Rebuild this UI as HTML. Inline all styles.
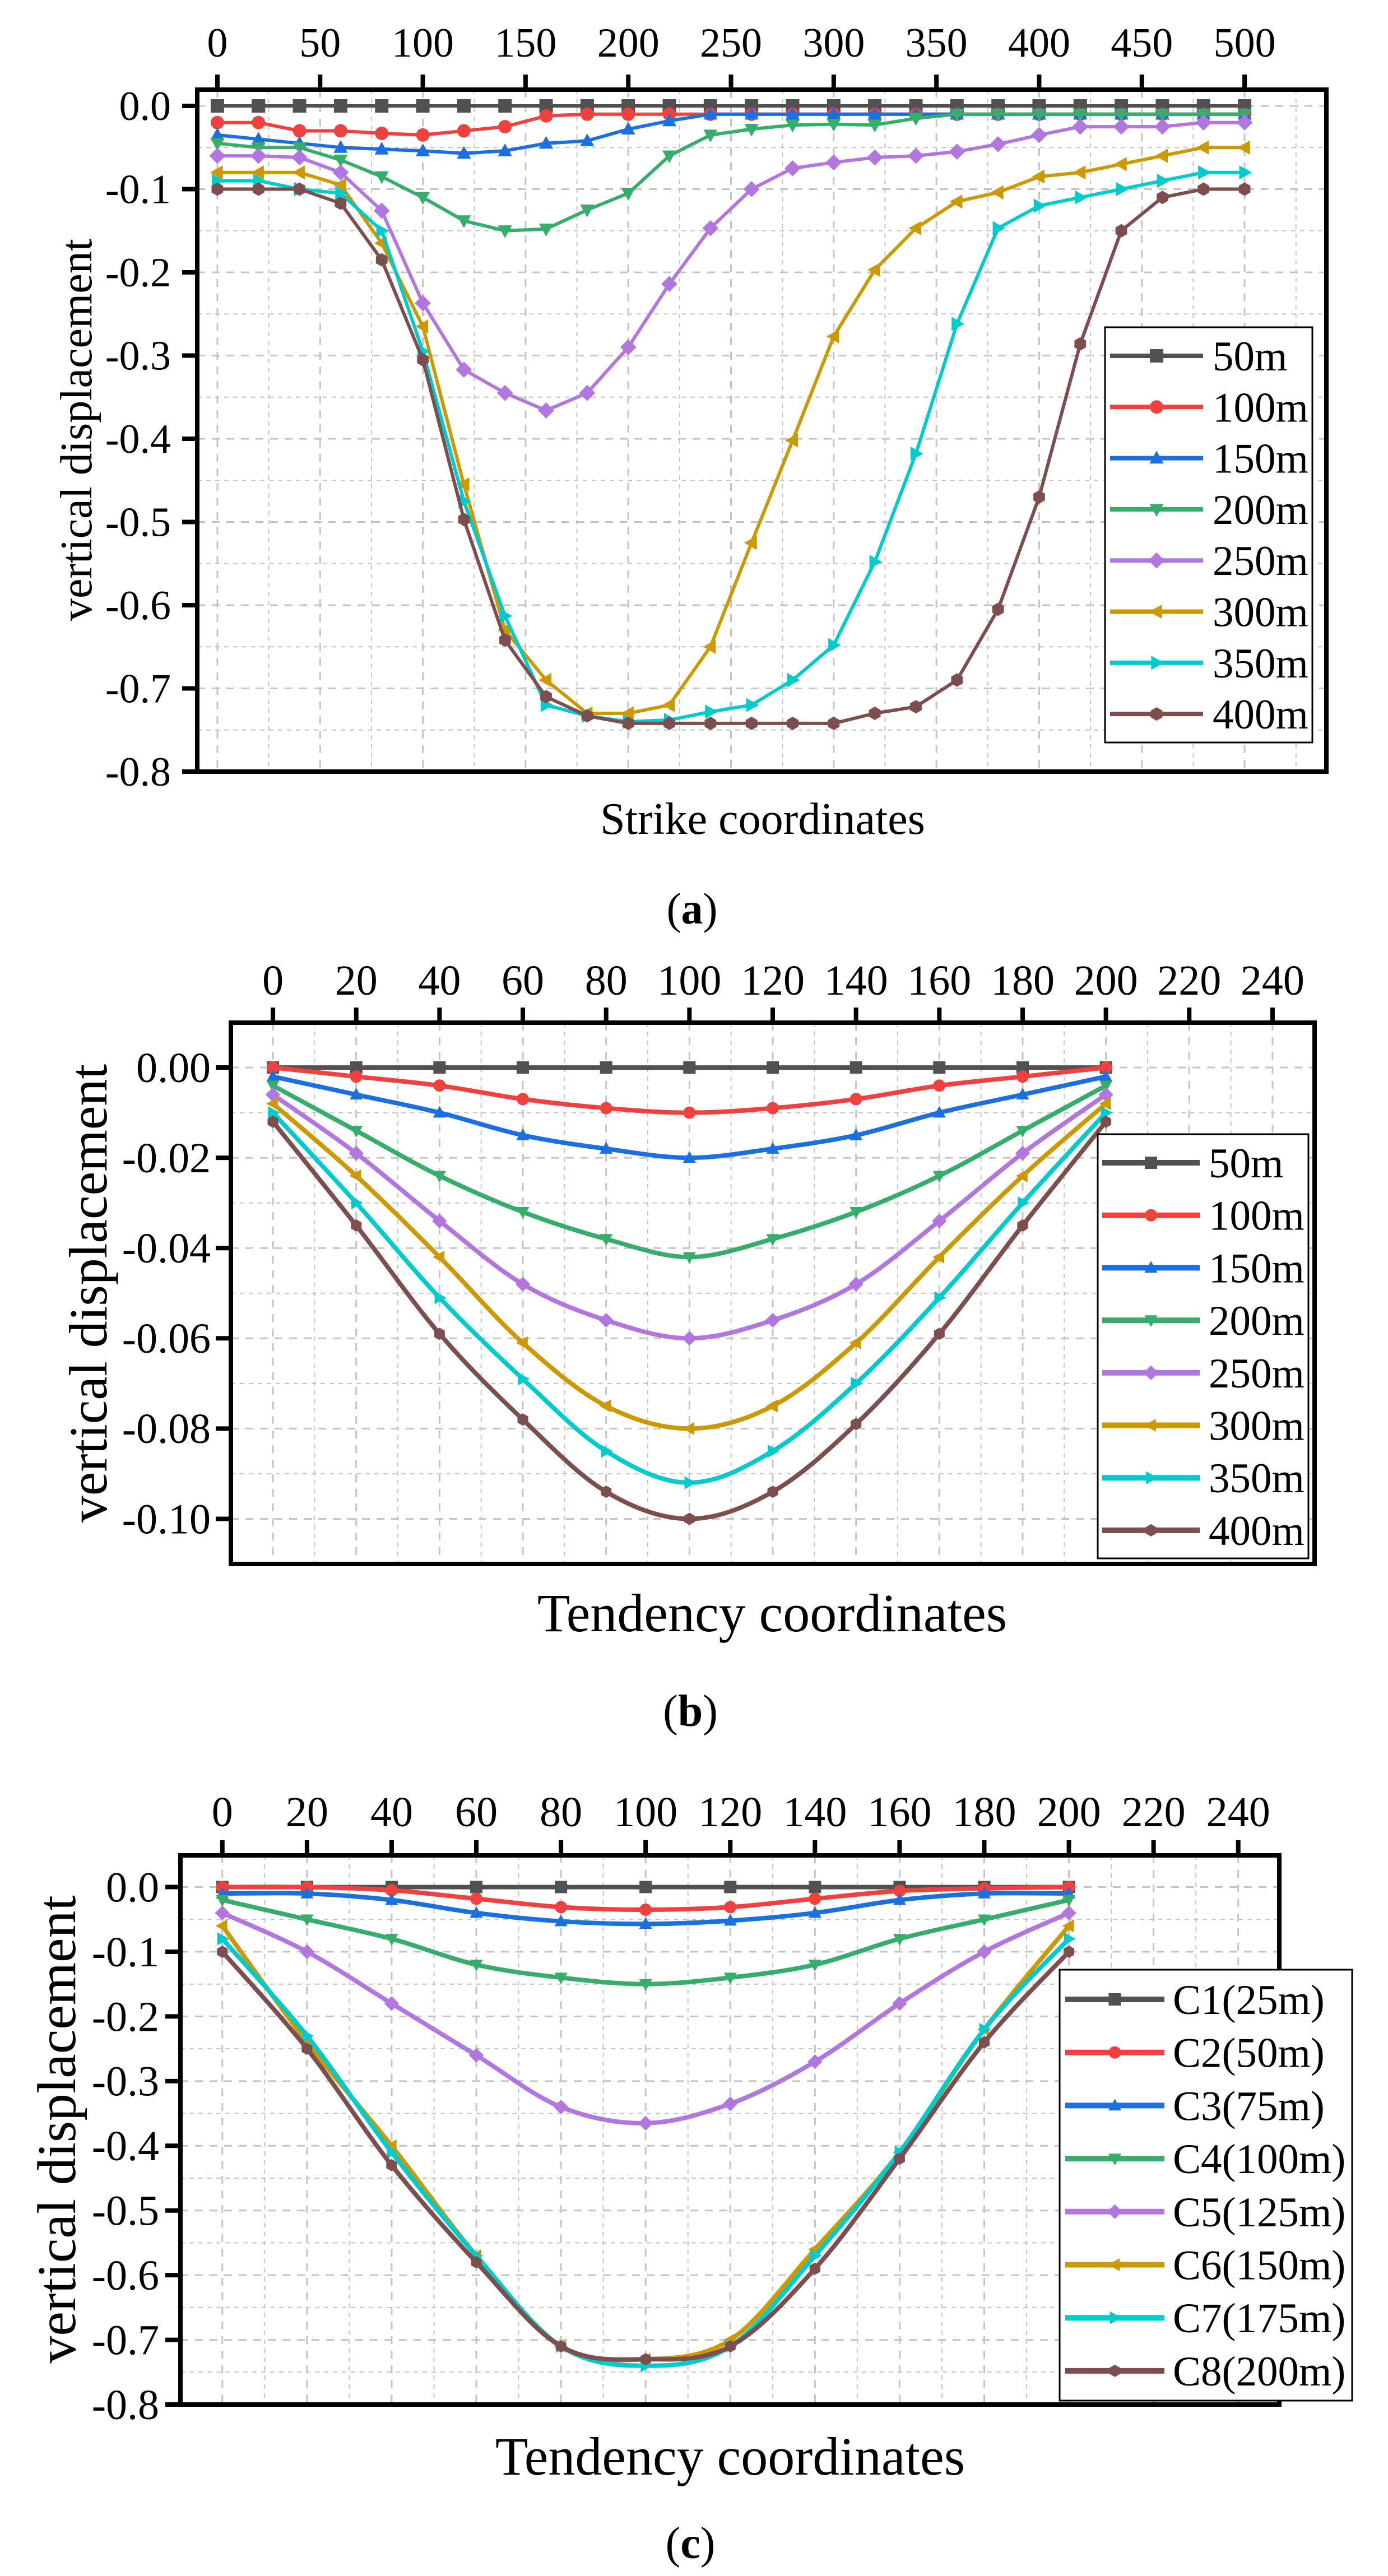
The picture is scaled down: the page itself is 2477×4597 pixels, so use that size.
<!DOCTYPE html>
<html><head><meta charset="utf-8"><style>
html,body{margin:0;padding:0;background:#fff;}
svg{display:block;}
text{font-family:"Liberation Serif","Times New Roman",serif;fill:#000;}
</style></head><body>
<svg id="fig" width="2477" height="4597" viewBox="0 0 2477 4597" xmlns="http://www.w3.org/2000/svg" font-family="'Liberation Serif', serif">
<rect x="0" y="0" width="2477" height="4597" fill="#fff"/>
</svg>
<script>
// ---------- Panel (a) data ----------
const xA = [0,20,40,60,80,100,120,140,160,180,200,220,240,260,280,300,320,340,360,380,400,420,440,460,480,500];
const a50  = [0,0,0,0,0,0,0,0,0,0,0,0,0,0,0,0,0,0,0,0,0,0,0,0,0,0];
const a100 = [-0.02,-0.02,-0.03,-0.03,-0.033,-0.035,-0.03,-0.025,-0.012,-0.01,-0.01,-0.01,-0.01,-0.01,-0.01,-0.01,-0.01,-0.01,-0.01,-0.01,-0.01,-0.01,-0.01,-0.01,-0.01,-0.01];
const a150 = [-0.035,-0.04,-0.045,-0.05,-0.052,-0.054,-0.057,-0.054,-0.045,-0.042,-0.028,-0.018,-0.01,-0.01,-0.01,-0.01,-0.01,-0.01,-0.01,-0.01,-0.01,-0.01,-0.01,-0.01,-0.01,-0.01];
const a200 = [-0.045,-0.05,-0.05,-0.065,-0.085,-0.11,-0.138,-0.15,-0.148,-0.125,-0.105,-0.06,-0.035,-0.028,-0.023,-0.022,-0.023,-0.015,-0.01,-0.01,-0.01,-0.01,-0.01,-0.01,-0.01,-0.01];
const a250 = [-0.06,-0.06,-0.062,-0.08,-0.126,-0.237,-0.317,-0.345,-0.366,-0.345,-0.29,-0.214,-0.147,-0.1,-0.075,-0.068,-0.062,-0.06,-0.055,-0.046,-0.035,-0.025,-0.025,-0.025,-0.02,-0.02];
const a300 = [-0.08,-0.08,-0.08,-0.095,-0.165,-0.265,-0.455,-0.63,-0.69,-0.73,-0.73,-0.72,-0.65,-0.525,-0.402,-0.277,-0.197,-0.147,-0.115,-0.104,-0.085,-0.08,-0.07,-0.06,-0.05,-0.05];
const a350 = [-0.09,-0.09,-0.1,-0.105,-0.15,-0.295,-0.475,-0.613,-0.72,-0.733,-0.74,-0.738,-0.728,-0.72,-0.69,-0.648,-0.548,-0.418,-0.262,-0.147,-0.12,-0.11,-0.1,-0.09,-0.08,-0.08];
const a400 = [-0.1,-0.1,-0.1,-0.117,-0.185,-0.305,-0.497,-0.642,-0.71,-0.733,-0.742,-0.742,-0.742,-0.742,-0.742,-0.742,-0.73,-0.722,-0.69,-0.605,-0.47,-0.286,-0.15,-0.11,-0.1,-0.1];
const namesA = ["50m","100m","150m","200m","250m","300m","350m","400m"];
const xTicksA = [0,50,100,150,200,250,300,350,400,450,500];
const yTicksA = [0,-0.1,-0.2,-0.3,-0.4,-0.5,-0.6,-0.7,-0.8];

// ---------- Panel (b) data ----------
const xB = [0,20,40,60,80,100,120,140,160,180,200];
const b50  = [0,0,0,0,0,0,0,0,0,0,0];
const b100 = [0,-0.002,-0.004,-0.007,-0.009,-0.010,-0.009,-0.007,-0.004,-0.002,0];
const b150 = [-0.002,-0.006,-0.010,-0.015,-0.018,-0.020,-0.018,-0.015,-0.010,-0.006,-0.002];
const b200 = [-0.004,-0.014,-0.024,-0.032,-0.038,-0.042,-0.038,-0.032,-0.024,-0.014,-0.004];
const b250 = [-0.006,-0.019,-0.034,-0.048,-0.056,-0.060,-0.056,-0.048,-0.034,-0.019,-0.006];
const b300 = [-0.008,-0.024,-0.042,-0.061,-0.075,-0.080,-0.075,-0.061,-0.042,-0.024,-0.008];
const b350 = [-0.010,-0.030,-0.051,-0.069,-0.085,-0.092,-0.085,-0.070,-0.051,-0.030,-0.010];
const b400 = [-0.012,-0.035,-0.059,-0.078,-0.094,-0.100,-0.094,-0.079,-0.059,-0.035,-0.012];
const namesB = ["50m","100m","150m","200m","250m","300m","350m","400m"];
const xTicksB = [0,20,40,60,80,100,120,140,160,180,200,220,240];
const yTicksB = [0,-0.02,-0.04,-0.06,-0.08,-0.10];

// ---------- Panel (c) data ----------
const xC = [0,20,40,60,80,100,120,140,160,180,200];
const c1 = [0,0,0,0,0,0,0,0,0,0,0];
const c2 = [0,0,-0.005,-0.018,-0.031,-0.035,-0.031,-0.018,-0.006,-0.002,0];
const c3 = [-0.01,-0.01,-0.02,-0.04,-0.053,-0.057,-0.052,-0.04,-0.02,-0.01,-0.01];
const c4 = [-0.02,-0.05,-0.08,-0.12,-0.14,-0.15,-0.14,-0.12,-0.08,-0.05,-0.02];
const c5 = [-0.04,-0.10,-0.18,-0.26,-0.34,-0.365,-0.335,-0.27,-0.18,-0.10,-0.04];
const c6 = [-0.06,-0.24,-0.40,-0.57,-0.71,-0.73,-0.70,-0.56,-0.41,-0.22,-0.06];
const c7 = [-0.08,-0.23,-0.41,-0.57,-0.71,-0.74,-0.71,-0.57,-0.41,-0.22,-0.08];
const c8 = [-0.10,-0.25,-0.43,-0.58,-0.71,-0.73,-0.71,-0.59,-0.42,-0.24,-0.10];
const namesC = ["C1(25m)","C2(50m)","C3(75m)","C4(100m)","C5(125m)","C6(150m)","C7(175m)","C8(200m)"];
const xTicksC = [0,20,40,60,80,100,120,140,160,180,200,220,240];
const yTicksC = [0,-0.1,-0.2,-0.3,-0.4,-0.5,-0.6,-0.7,-0.8];

const COLORS = ["#515151","#F04141","#1B6FDF","#37AD6B","#B177DE","#CC9900","#00CBCC","#7D4E4E"];
const MARKERS = ["square","circle","tri-up","tri-down","diamond","tri-left","tri-right","hexagon"];

const NS = "http://www.w3.org/2000/svg";
const SERIF = "'Liberation Serif', 'Times New Roman', serif";
const svg = document.getElementById("fig");
function mk(tag, attrs, parent){
  const e = document.createElementNS(NS, tag);
  for (const k in attrs) e.setAttribute(k, attrs[k]);
  if (tag === "text") e.setAttribute("font-family", SERIF);
  (parent||svg).appendChild(e);
  return e;
}
function markerPath(shape, cx, cy, s){
  const h = s/2;
  switch(shape){
    case "square": return `M${cx-h},${cy-h}H${cx+h}V${cy+h}H${cx-h}Z`;
    case "circle": return `M${cx-h},${cy}A${h},${h} 0 1 0 ${cx+h},${cy}A${h},${h} 0 1 0 ${cx-h},${cy}Z`;
    case "tri-up": return `M${cx},${cy-h*1.1}L${cx+h*1.05},${cy+h*0.8}L${cx-h*1.05},${cy+h*0.8}Z`;
    case "tri-down": return `M${cx},${cy+h*1.1}L${cx+h*1.05},${cy-h*0.8}L${cx-h*1.05},${cy-h*0.8}Z`;
    case "tri-left": return `M${cx-h*1.1},${cy}L${cx+h*0.8},${cy-h*1.05}L${cx+h*0.8},${cy+h*1.05}Z`;
    case "tri-right": return `M${cx+h*1.1},${cy}L${cx-h*0.8},${cy-h*1.05}L${cx-h*0.8},${cy+h*1.05}Z`;
    case "diamond": return `M${cx},${cy-h*1.2}L${cx+h*1.2},${cy}L${cx},${cy+h*1.2}L${cx-h*1.2},${cy}Z`;
    case "hexagon": {
      let p="";
      for(let i=0;i<6;i++){const a=Math.PI/6+i*Math.PI/3;p+=(i?"L":"M")+(cx+h*Math.cos(a)).toFixed(1)+","+(cy+h*Math.sin(a)).toFixed(1);}
      return p+"Z";
    }
  }
}
function smoothPath(pts){
  let d = `M${pts[0][0]},${pts[0][1]}`;
  for(let i=0;i<pts.length-1;i++){
    const p0=pts[Math.max(0,i-1)], p1=pts[i], p2=pts[i+1], p3=pts[Math.min(pts.length-1,i+2)];
    const c1x=p1[0]+(p2[0]-p0[0])/6, c1y=p1[1]+(p2[1]-p0[1])/6;
    const c2x=p2[0]-(p3[0]-p1[0])/6, c2y=p2[1]-(p3[1]-p1[1])/6;
    d+=`C${c1x.toFixed(1)},${c1y.toFixed(1)} ${c2x.toFixed(1)},${c2y.toFixed(1)} ${p2[0].toFixed(1)},${p2[1].toFixed(1)}`;
  }
  return d;
}

function drawChart(cfg){
  const g = mk("g", {});
  
  
  const B = cfg.box;
  const sx = v => B.l + (v - cfg.xd[0])/(cfg.xd[1]-cfg.xd[0])*(B.r-B.l);
  const sy = v => B.t + (v - cfg.yd[0])/(cfg.yd[1]-cfg.yd[0])*(B.b-B.t);
  const grid = mk("g", {}, g);
  
  
  for(let v=cfg.xMinor[0]; v<=cfg.xMinor[1]+1e-9; v+=cfg.xMinor[2]){
    const X=sx(v); if(X<=B.l+4||X>=B.r-4) continue;
    const major = Math.abs(v/cfg.xMajor - Math.round(v/cfg.xMajor))<1e-6;
    mk("line",{x1:X,y1:B.t,x2:X,y2:B.b,stroke:"#c4c4c4","stroke-width":major?3:2,"stroke-dasharray":major?"14,12":"8,8"},grid);
  }
  for(let k=0; ; k++){
    const val = cfg.yMinorStart - k*cfg.yMinorStep;
    if(val < cfg.yd[1]-1e-9) break;
    const Y=sy(val); if(Y<=B.t+4||Y>=B.b-4) continue;
    const major = Math.abs(val/cfg.yMajor - Math.round(val/cfg.yMajor))<1e-6;
    mk("line",{x1:B.l,y1:Y,x2:B.r,y2:Y,stroke:"#c4c4c4","stroke-width":major?3:2,"stroke-dasharray":major?"14,12":"8,8"},grid);
  }
  cfg.series.forEach((ys, si) => {
    const sg = mk("g", {}, g);
    
    
    const pts = cfg.xs.map((x,i)=>[sx(x), sy(ys[i])]);
    const d = cfg.smooth ? smoothPath(pts) : "M"+pts.map(p=>p[0].toFixed(1)+","+p[1].toFixed(1)).join("L");
    const ln = mk("path",{d:d,fill:"none",stroke:COLORS[si],"stroke-width":cfg.lw,"stroke-linejoin":"round"},sg);
    
    
    pts.forEach(p=>{
      const m = mk("path",{d:markerPath(MARKERS[si],p[0],p[1],cfg.ms),fill:COLORS[si]},sg);
      
      
    });
  });
  const fr = mk("rect",{x:B.l,y:B.t,width:B.r-B.l,height:B.b-B.t,fill:"none",stroke:"#000","stroke-width":8},g);
  
  
  cfg.xTicks.forEach(v=>{
    const X=sx(v);
    const t = mk("line",{x1:X,y1:B.t-27,x2:X,y2:B.t,stroke:"#000","stroke-width":8},g);
    
    
    const tx = mk("text",{x:X,y:cfg.xLabelY,"font-size":cfg.tickFont,"text-anchor":"middle"},g);
    tx.textContent = String(v);
    
    
  });
  cfg.yTicks.forEach(v=>{
    const Y=sy(v);
    const t = mk("line",{x1:B.l-27,y1:Y,x2:B.l,y2:Y,stroke:"#000","stroke-width":8},g);
    
    
    const tx = mk("text",{x:cfg.yLabelX,y:Y+cfg.tickFont*0.34,"font-size":cfg.tickFont,"text-anchor":"end"},g);
    tx.textContent = v===0 ? (0).toFixed(cfg.yDec) : v.toFixed(cfg.yDec);
    
    
  });
  const yt = mk("text",{transform:`translate(${cfg.yTitle[0]},${cfg.yTitle[1]}) rotate(-90)`,"font-size":cfg.yTitle[2],"text-anchor":"middle"},g);
  yt.textContent = "vertical displacement";
  
  
  const xt = mk("text",{x:cfg.xTitle[0],y:cfg.xTitle[1],"font-size":cfg.xTitle[2],"text-anchor":"middle"},g);
  xt.textContent = cfg.xTitleText;
  
  
  const pl = mk("text",{x:cfg.panel[0],y:cfg.panel[1],"font-size":cfg.panel[2],"text-anchor":"middle"},g);
  pl.innerHTML = '(<tspan font-weight="bold">'+cfg.panel[3]+'</tspan>)';
  
  
  const L = cfg.legend;
  const lg = mk("g",{},g);
  
  
  mk("rect",{x:L.x1,y:L.y1,width:L.x2-L.x1,height:L.y2-L.y1,fill:"#fff",stroke:"#000","stroke-width":3},lg);
  cfg.names.forEach((n,i)=>{
    const Y = L.yStart + i*L.step;
    const eg = mk("g",{},lg);
    
    
    mk("line",{x1:L.lx1,y1:Y,x2:L.lx2,y2:Y,stroke:COLORS[i],"stroke-width":cfg.lw+2},eg);
    mk("path",{d:markerPath(MARKERS[i],(L.lx1+L.lx2)/2,Y,cfg.ms),fill:COLORS[i]},eg);
    const t = mk("text",{x:L.tx,y:Y+26,"font-size":L.font},eg);
    t.textContent = n;
  });
}

drawChart({
  id:"chart-a", box:{l:352,t:160,r:2367,b:1377}, xd:[-9.8,539.8], yd:[0.0195,-0.8],
  xs:xA, series:[a50,a100,a150,a200,a250,a300,a350,a400], names:namesA,
  xTicks:xTicksA, yTicks:yTicksA, yDec:1, xMajor:50, xMinor:[0,525,25],
  yMajor:0.1, yMinorStart:0, yMinorStep:0.05,
  tickFont:74, xLabelY:101, yLabelX:305, lw:6, ms:24, smooth:false,
  yTitle:[163,767,80], xTitle:[1361,1488,80], xTitleText:"Strike coordinates",
  panel:[1235,1648,78,"a"],
  legend:{x1:1972,y1:584,x2:2342,y2:1325,yStart:635,step:91.3,lx1:1981,lx2:2147,tx:2164,font:75}
});
drawChart({
  id:"chart-b", box:{l:412,t:1825,r:2346,b:2791}, xd:[-10.1,250.1], yd:[0.00994,-0.11],
  xs:xB, series:[b50,b100,b150,b200,b250,b300,b350,b400], names:namesB,
  xTicks:xTicksB, yTicks:yTicksB, yDec:2, xMajor:20, xMinor:[0,250,10],
  yMajor:0.02, yMinorStart:0, yMinorStep:0.01,
  tickFont:76, xLabelY:1775, yLabelX:376, lw:8, ms:22, smooth:true,
  yTitle:[190,2308,96], xTitle:[1378,2911,96], xTitleText:"Tendency coordinates",
  panel:[1232,3080,80,"b"],
  legend:{x1:1959,y1:2024,x2:2335,y2:2781,yStart:2075,step:93.7,lx1:1967,lx2:2141,tx:2157,font:75}
});
drawChart({
  id:"chart-c", box:{l:322,t:3311,r:2283,b:4291}, xd:[-9.9,249.7], yd:[0.049,-0.8],
  xs:xC, series:[c1,c2,c3,c4,c5,c6,c7,c8], names:namesC,
  xTicks:xTicksC, yTicks:yTicksC, yDec:1, xMajor:20, xMinor:[0,240,10],
  yMajor:0.1, yMinorStart:0, yMinorStep:0.05,
  tickFont:76, xLabelY:3259, yLabelX:284, lw:8, ms:22, smooth:true,
  yTitle:[134,3800,98], xTitle:[1303,4416,96], xTitleText:"Tendency coordinates",
  panel:[1232,4565,80,"c"],
  legend:{x1:1891,y1:3515,x2:2413,y2:4284,yStart:3568,step:94.7,lx1:1901,lx2:2078,tx:2093,font:75}
});
</script>
</body></html>
